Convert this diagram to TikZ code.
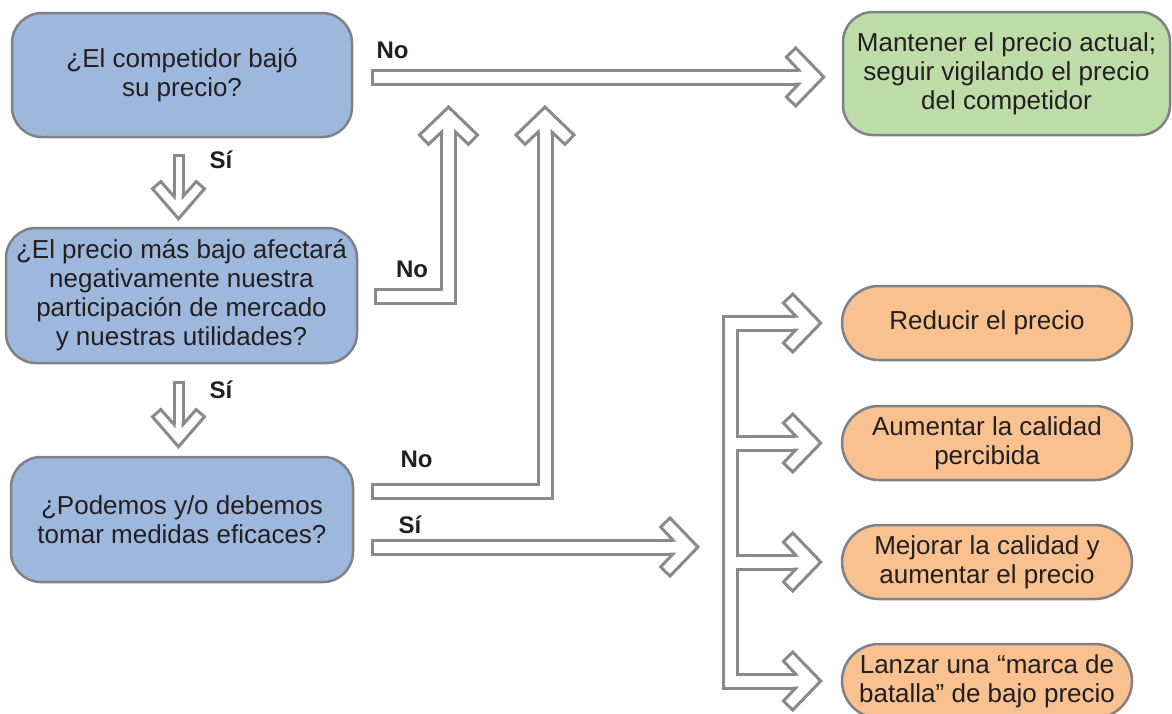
\documentclass[tikz,border=0pt]{standalone}
\usepackage{fontspec}
\setmainfont{Liberation Sans}
\usetikzlibrary{calc}
\definecolor{qblue}{RGB}{158,184,221}
\definecolor{ggreen}{RGB}{190,220,168}
\definecolor{oorange}{RGB}{248,193,143}
\definecolor{bgray}{RGB}{128,129,132}
\definecolor{agray}{RGB}{136,138,141}
\definecolor{txt}{RGB}{35,31,32}
\tikzset{
  box/.style={draw=bgray, line width=2.5pt, rounded corners=30pt, align=center, inner sep=0pt, text=txt, font=\fontsize{26pt}{29pt}\selectfont},
  qbox/.style={box, fill=qblue},
  gbox/.style={box, fill=ggreen},
  obox/.style={box, fill=oorange, rounded corners=37pt, minimum width=290pt, minimum height=74pt},
  lbl/.style={text=txt, font=\fontsize{24pt}{26pt}\selectfont\bfseries, inner sep=0pt, anchor=base},
  shaftout/.style={draw=agray, line width=17pt, line join=miter},
  shaftin/.style={draw=white, line width=11pt, line join=miter},
  sshaftout/.style={draw=agray, line width=12pt},
  sshaftin/.style={draw=white, line width=6pt},
  bighead/.pic={
    \fill[white] (-25.1,-7) -- (-37.35,-20) -- (-28,-29) -- (0,0) -- (-28,29) -- (-37.35,20) -- (-25.1,7) -- cycle;
    \draw[agray, line width=3pt, line join=miter] (-28,-7) -- (-25.1,-7) -- (-37.35,-20) -- (-28,-29) -- (0,0) -- (-28,29) -- (-37.35,20) -- (-25.1,7) -- (-28,7);
  },
  smallhead/.pic={
    \fill[white] (-22.3,-4.5) -- (-37.2,-17.7) -- (-30,-26) -- (0,0) -- (-30,26) -- (-37.2,17.7) -- (-22.3,4.5) -- cycle;
    \draw[agray, line width=3pt, line join=miter] (-25,-4.5) -- (-22.3,-4.5) -- (-37.2,-17.7) -- (-30,-26) -- (0,0) -- (-30,26) -- (-37.2,17.7) -- (-22.3,4.5) -- (-25,4.5);
  },
}
\begin{document}
\begin{tikzpicture}[x=1pt,y=-1pt]
\useasboundingbox[fill=white] (0,0) rectangle (1172,713);

% nodes
\node[qbox, minimum width=340pt, minimum height=124pt] (q1) at (182,75) {¿El competidor bajó\\su precio?};
\node[qbox, minimum width=351pt, minimum height=135pt] (q2) at (181.5,295.5) {¿El precio más bajo afectará\\negativamente nuestra\\participación de mercado\\y nuestras utilidades?};
\node[qbox, minimum width=342pt, minimum height=125pt] (q3) at (182,519.5) {¿Podemos y/o debemos\\tomar medidas eficaces?};
\node[gbox, minimum width=327pt, minimum height=123pt] (g) at (1006.5,73.5) {Mantener el precio actual;\\seguir vigilando el precio\\del competidor};
\node[obox] (o1) at (987,323) {Reducir el precio};
\node[obox] (o2) at (987,443) {Aumentar la calidad\\percibida};
\node[obox] (o3) at (987,562) {Mejorar la calidad y\\aumentar el precio};
\node[obox] (o4) at (987,681) {Lanzar una “marca de\\batalla” de bajo precio};

% coordinates
\coordinate (a1s) at ($(q1.east)+(18,2)$);
\coordinate (a1t) at ($(g.west)+(-18,3.5)$);
\coordinate (a1e) at ($(a1t)+(-24,0)$);
\coordinate (a2s) at ($(q2.east)+(16,0.5)$);
\coordinate (a2t) at (448.5,107);
\coordinate (a2e) at ($(a2t)+(0,24)$);
\coordinate (a3s) at ($(q3.east)+(17,-28.5)$);
\coordinate (a3t) at (545,107);
\coordinate (a3e) at ($(a3t)+(0,24)$);
\coordinate (a4s) at ($(q3.east)+(17,27.5)$);
\coordinate (a4t) at (698,547);
\coordinate (a4e) at ($(a4t)+(-24,0)$);
\coordinate (sp) at (730.5,0);
\foreach \i in {1,2,3,4}{
  \coordinate (t\i) at ($(o\i.west)+(-20,0)$);
  \coordinate (t\i e) at ($(t\i)+(-24,0)$);
}
\coordinate (d1s) at ($(q1.south)+(-3.5,16)$);
\coordinate (d1t) at ($(q2.north)+(-3,-8)$);
\coordinate (d1e) at ($(d1t)+(0,-21)$);
\coordinate (d2s) at ($(q2.south)+(-3,17)$);
\coordinate (d2t) at ($(q3.north)+(-3.5,-9)$);
\coordinate (d2e) at ($(d2t)+(0,-21)$);

% block arrows: outlines
\draw[shaftout] (a1s) -- (a1e);
\draw[shaftout] (a2s) -- (a2s -| a2t) -- (a2e);
\draw[shaftout] (a3s) -- (a3s -| a3t) -- (a3e);
\draw[shaftout] (a4s) -- (a4e);
\draw[shaftout] (t1e) -- (t1e -| sp) -- (t4e -| sp) -- (t4e);
\draw[shaftout] (t2e -| sp) -- (t2e);
\draw[shaftout] (t3e -| sp) -- (t3e);
\draw[sshaftout] (d1s) -- (d1e);
\draw[sshaftout] (d2s) -- (d2e);
% block arrows: interiors
\draw[shaftin, shorten <=3pt] (a1s) -- (a1e);
\draw[shaftin, shorten <=3pt] (a2s) -- (a2s -| a2t) -- (a2e);
\draw[shaftin, shorten <=3pt] (a3s) -- (a3s -| a3t) -- (a3e);
\draw[shaftin, shorten <=3pt] (a4s) -- (a4e);
\draw[shaftin] (t1e) -- (t1e -| sp) -- (t4e -| sp) -- (t4e);
\draw[shaftin] (t2e -| sp) -- (t2e);
\draw[shaftin] (t3e -| sp) -- (t3e);
\draw[sshaftin, shorten <=3pt] (d1s) -- (d1e);
\draw[sshaftin, shorten <=3pt] (d2s) -- (d2e);
% heads
\pic at (a1t) {bighead};
\pic[rotate=90] at (a2t) {bighead};
\pic[rotate=90] at (a3t) {bighead};
\pic at (a4t) {bighead};
\foreach \i in {1,2,3,4}{ \pic at (t\i) {bighead}; }
\pic[rotate=-90] at (d1t) {smallhead};
\pic[rotate=-90] at (d2t) {smallhead};

% labels
\node[lbl] (l1) at (392.5,58) {No};
\node[lbl] (l2) at (221,168) {Sí};
\node[lbl] (l3) at (412,277) {No};
\node[lbl] (l4) at (221,398) {Sí};
\node[lbl] (l5) at (416.5,467) {No};
\node[lbl] (l6) at (410,533) {Sí};
\end{tikzpicture}
\end{document}
